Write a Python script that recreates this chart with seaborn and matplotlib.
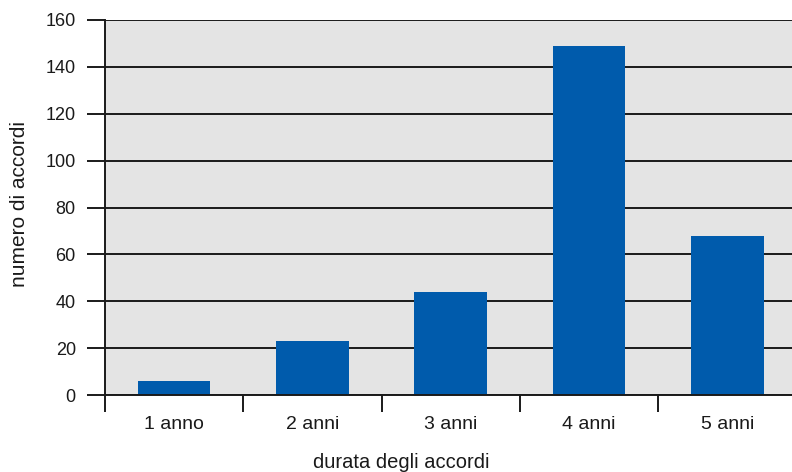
import matplotlib
matplotlib.use("Agg")
import matplotlib.pyplot as plt
import seaborn as sns
import pandas as pd
from matplotlib.ticker import FixedLocator, NullFormatter

# Durata degli accordi e numero di accordi per ciascuna durata
categorie = ["1 anno", "2 anni", "3 anni", "4 anni", "5 anni"]
numero_accordi = [6, 23, 44, 149, 68]
y_ticks = [0, 20, 40, 60, 80, 100, 120, 140, 160]

df = pd.DataFrame({"durata": categorie, "numero": numero_accordi})

sns.set_theme(style="white")
plt.rcParams["font.family"] = ["Liberation Sans", "DejaVu Sans"]

W, H = 792, 472
fig = plt.figure(figsize=(W / 100, H / 100), dpi=100)
left, right, top, bottom = 105, 796.5, 20, 395
ax = fig.add_axes([left / W, (H - bottom) / H, (right - left) / W, (bottom - top) / H])
ax.set_facecolor("#E4E4E4")

sns.barplot(data=df, x="durata", y="numero", color="#005BAC", saturation=1,
            width=0.525, linewidth=0, ax=ax, zorder=3)

ax.set_xlim(-0.5, 4.5)
ax.set_ylim(0, 160)
ax.set_yticks(y_ticks)
ax.yaxis.grid(True, color="#1a1a1a", linewidth=1.4, zorder=1)
ax.set_axisbelow(True)

for side in ["top", "right"]:
    ax.spines[side].set_visible(False)
for side in ["left", "bottom"]:
    ax.spines[side].set_color("#1a1a1a")
    ax.spines[side].set_linewidth(1.4)
    ax.spines[side].set_zorder(4)

# tick marks between categories, labels centered under bars
ax.xaxis.set_minor_locator(FixedLocator([-0.5, 0.5, 1.5, 2.5, 3.5, 4.5]))
ax.xaxis.set_minor_formatter(NullFormatter())
ax.tick_params(axis="x", which="both", bottom=True)
ax.tick_params(axis="x", which="major", length=0, pad=15, labelsize=14, labelcolor="#1a1a1a")
ax.tick_params(axis="x", which="minor", length=12, width=1.4, color="#1a1a1a", direction="out")
ax.tick_params(axis="y", which="major", left=True, length=13, width=1.4, color="#1a1a1a",
               direction="out", pad=8, labelsize=13, labelcolor="#1a1a1a")

ax.set_xlabel("durata degli accordi", fontsize=14.5, color="#1a1a1a")
ax.set_ylabel("numero di accordi", fontsize=15, color="#1a1a1a")
ax.xaxis.set_label_coords((401 - left) / (right - left), (bottom - 462) / (bottom - top))
ax.xaxis.label.set_va("center")
ax.yaxis.set_label_coords((20 - left) / (right - left), (bottom - 204) / (bottom - top))
ax.yaxis.label.set_va("center")

fig.savefig("out.png", dpi=100)
